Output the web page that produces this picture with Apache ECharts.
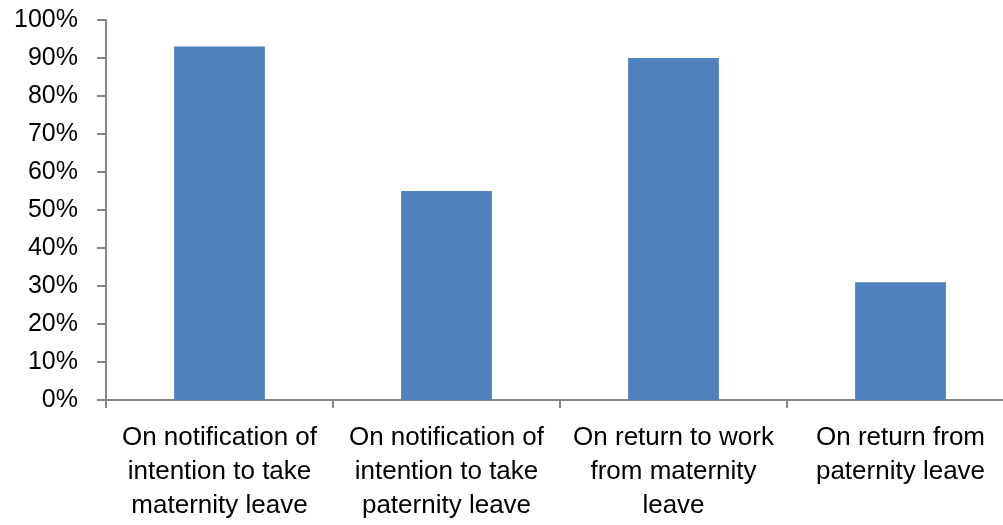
<!DOCTYPE html>
<html>
<head>
<meta charset="utf-8">
<script src="https://cdn.jsdelivr.net/npm/echarts@6/dist/echarts.min.js"></script>
<style>
  html, body { margin: 0; padding: 0; background: #fff; }
  #main { width: 1003px; height: 525px; }
</style>
</head>
<body>
<div id="main"></div>
<script>
// categories (line breaks as in the chart)
var categories = [
  'On notification of\nintention to take\nmaternity leave',
  'On notification of\nintention to take\npaternity leave',
  'On return to work\nfrom maternity\nleave',
  'On return from\npaternity leave'
]
// percentages
var values = [93, 55, 90, 31]

var myChart = echarts.init(document.getElementById('main'))
var axisGray = '#868686'
var font = '"Liberation Sans", Arial, sans-serif'

var option = {
  animation: false,
  backgroundColor: '#fff',
  // plot runs a little past the right edge, as in the original
  grid: { left: 106, width: 908, top: 20, bottom: 125, outerBoundsMode: 'none' },
  xAxis: {
    type: 'category',
    data: categories,
    axisLine: { lineStyle: { color: axisGray, width: 2 } },
    axisTick: { show: true, length: 8, lineStyle: { color: axisGray, width: 2 } },
    axisLabel: {
      interval: 0,
      margin: 21,
      color: '#000',
      fontFamily: font,
      fontSize: 26,
      lineHeight: 34,
      align: 'center'
    },
    splitLine: { show: false }
  },
  yAxis: {
    type: 'value',
    min: 0,
    max: 100,
    interval: 10,
    axisLine: { show: true, lineStyle: { color: axisGray, width: 2 } },
    axisTick: { show: true, length: 9, lineStyle: { color: axisGray, width: 2 } },
    axisLabel: {
      formatter: '{value}%',
      margin: 28,
      color: '#000',
      fontFamily: font,
      fontSize: 25
    },
    splitLine: { show: false }
  },
  series: [
    {
      type: 'bar',
      data: values,
      barWidth: '40%',
      itemStyle: { color: '#4F81BD' }
    }
  ]
}

myChart.setOption(option)
</script>
</body>
</html>
